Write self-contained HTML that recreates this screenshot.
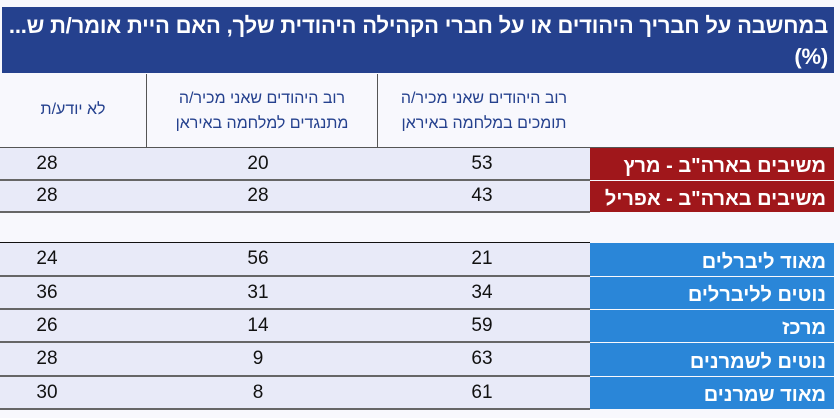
<!DOCTYPE html>
<html><head><meta charset="utf-8"><style>
body{margin:0;width:840px;height:418px;background:#f8f8fd;font-family:"Liberation Sans","Noto Sans CJK SC",sans-serif;position:relative;overflow:hidden}
.a{position:absolute}
.title{left:2px;top:7px;width:832px;height:66px;background:#25418e;color:#fff;font-weight:bold;font-size:22px;direction:rtl;text-align:right;line-height:31px;padding-right:6px;box-sizing:border-box;padding-top:3px;letter-spacing:-0.2px;white-space:nowrap}
.hd{color:#25418e;font-size:16px;text-align:center;direction:rtl;line-height:25px}
.row{left:0;width:590px;background:#e8eaf8;border-bottom:2px solid #666;box-sizing:border-box}
.n{position:absolute;font-size:19px;color:#111;width:80px;text-align:center}
.lab{left:590px;width:244px;color:#fff;font-weight:bold;font-size:20px;direction:rtl;text-align:right;padding-right:8px;box-sizing:border-box}
</style></head><body>
<div class="a title">במחשבה על חבריך היהודים או על חברי הקהילה היהודית שלך, האם היית אומר/ת ש...<br>(%)</div>
<div class="a" style="left:146px;top:74px;width:1px;height:73px;background:#555"></div>
<div class="a" style="left:377px;top:74px;width:1px;height:73px;background:#555"></div>
<div class="a hd" style="left:0;top:97px;width:146px">לא יודע/ת</div>
<div class="a hd" style="left:147px;top:86px;width:230px">רוב היהודים שאני מכיר/ה<br>מתנגדים למלחמה באיראן</div>
<div class="a hd" style="left:378px;top:86px;width:212px">רוב היהודים שאני מכיר/ה<br>תומכים במלחמה באיראן</div>
<div class="a" style="left:0;top:147px;width:834px;height:1px;background:#555"></div>
<div id="rows"></div>
<script>
var R=[[148,33,"משיבים בארה\"ב - מרץ","53","20","28","#a0171b"],[181,32,"משיבים בארה\"ב - אפריל","43","28","28","#a0171b"],
[243,34,"מאוד ליברלים","21","56","24","#2a86d8"],[277,33,"נוטים לליברלים","34","31","36","#2a86d8"],[310,33,"מרכז","59","14","26","#2a86d8"],[343,34,"נוטים לשמרנים","63","9","28","#2a86d8"],[377,33,"מאוד שמרנים","61","8","30","#2a86d8"]];
var h="";R.forEach(function(r){var t=r[0],H=r[1];
h+='<div class="a row" style="top:'+t+'px;height:'+H+'px"><span class="n" style="left:442px;top:'+(H/2-12)+'px">'+r[3]+'</span><span class="n" style="left:218px;top:'+(H/2-12)+'px">'+r[4]+'</span><span class="n" style="left:7px;top:'+(H/2-12)+'px">'+r[5]+'</span></div>';
h+='<div class="a lab" style="top:'+t+'px;height:'+(H-1)+'px;line-height:'+(H+4)+'px;background:'+r[6]+'">'+r[2]+'</div>';});
document.getElementById("rows").innerHTML=h;
</script>
<div class="a" style="left:0;top:242px;width:590px;height:1px;background:#111"></div>
</body></html>
